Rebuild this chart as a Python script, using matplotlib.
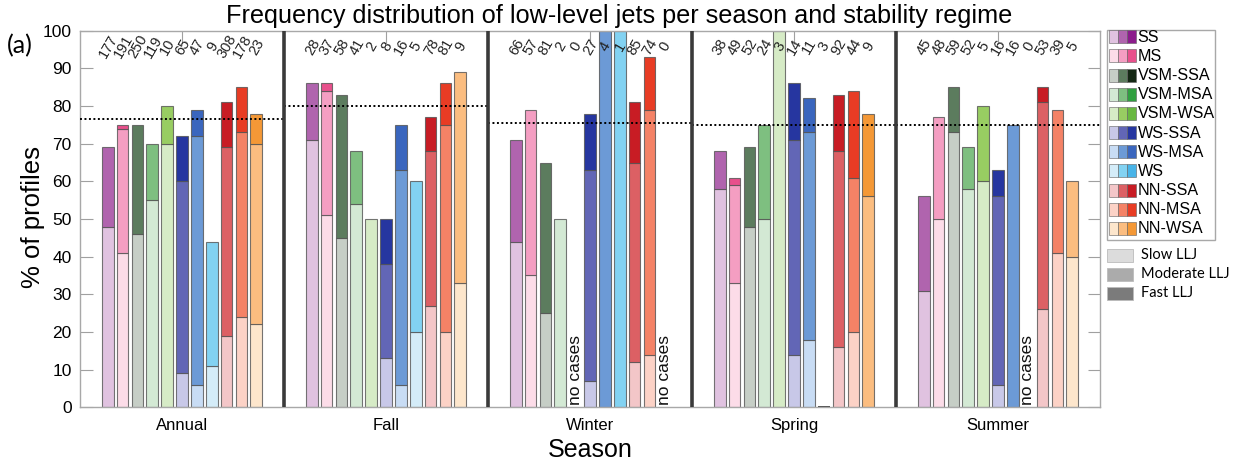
import matplotlib
matplotlib.use("Agg")
import matplotlib.pyplot as plt
from matplotlib.patches import Rectangle

plt.rcParams['font.family'] = ['Liberation Sans', 'DejaVu Sans']

seasons = ["Annual", "Fall", "Winter", "Spring", "Summer"]
regimes = ["SS", "MS", "VSM-SSA", "VSM-MSA", "VSM-WSA", "WS-SSA",
           "WS-MSA", "WS", "NN-SSA", "NN-MSA", "NN-WSA"]

# % of profiles with a slow / moderate / fast LLJ (rows: seasons, cols: regimes)
slow = [
    [48, 41, 46, 55, 70, 9, 6, 11, 19, 24, 22],
    [71, 51, 45, 54, 50, 13, 6, 20, 27, 20, 33],
    [44, 35, 25, 50, 0, 7, 0, 0, 12, 14, 0],
    [58, 33, 48, 50, 100, 14, 18, 0, 16, 20, 0],
    [31, 50, 73, 58, 60, 6, 0, 0, 26, 41, 40],
]
moderate = [
    [21, 33, 29, 15, 10, 51, 66, 33, 50, 49, 48],
    [15, 33, 38, 14, 0, 25, 57, 40, 41, 55, 56],
    [27, 44, 40, 0, 0, 56, 100, 100, 53, 65, 0],
    [10, 26, 21, 25, 0, 57, 55, 0, 52, 41, 56],
    [25, 27, 12, 11, 20, 50, 75, 0, 55, 38, 20],
]
fast = [
    [0, 1, 0, 0, 0, 12, 7, 0, 12, 12, 8],
    [0, 2, 0, 0, 0, 12, 12, 0, 9, 11, 0],
    [0, 0, 0, 0, 0, 15, 0, 0, 16, 14, 0],
    [0, 2, 0, 0, 0, 15, 9, 0, 15, 23, 22],
    [0, 0, 0, 0, 0, 7, 0, 0, 4, 0, 0],
]
# number of LLJ cases
counts = [
    [177, 191, 250, 119, 10, 65, 47, 9, 308, 178, 23],
    [28, 37, 58, 41, 2, 8, 16, 5, 78, 81, 9],
    [66, 57, 81, 2, 0, 27, 4, 1, 85, 74, 0],
    [38, 49, 52, 24, 3, 14, 11, 3, 92, 44, 9],
    [45, 48, 59, 52, 5, 16, 16, 0, 53, 39, 5],
]
# overall LLJ frequency of each season
season_mean = [76.5, 80.0, 75.5, 75.0, 75.0]

# light / medium / dark shade of each regime
palette = [
    ("#e0c2e0", "#b064ae", "#8c1c8c"),
    ("#fcdce8", "#f49ec2", "#e8508c"),
    ("#c6cec6", "#5c7c5e", "#142814"),
    ("#d3e9d4", "#7ebf80", "#30a040"),
    ("#d6ebc6", "#98cd62", "#68b840"),
    ("#c8c8e8", "#6266b6", "#2636a0"),
    ("#c8dcf4", "#6c9ad6", "#3a66be"),
    ("#d4ecf8", "#82d2f2", "#48b4e8"),
    ("#f3c6c8", "#dc6064", "#c81c24"),
    ("#fcd2c6", "#f48266", "#e83c24"),
    ("#fde6cc", "#fbbd80", "#f49836"),
]
speed_labels = ["Slow LLJ", "Moderate LLJ", "Fast LLJ"]
speed_greys = ["#dcdcdc", "#ababab", "#7b7b7b"]

W, H = 1239, 465
fig = plt.figure(figsize=(W / 100, H / 100), dpi=100)
ax = fig.add_axes([80 / W, 1 - 407.3 / H, 1020 / W, 376.6 / H])

pitch = 0.0728
width = 0.057
edge = (0.33, 0.33, 0.33, 0.8)

for s in range(len(seasons)):
    center = s + 1
    for r in range(len(regimes)):
        x = center + (r - 5) * pitch
        n = counts[s][r]
        parts = [slow[s][r], moderate[s][r], fast[s][r]]
        if n == 0:
            ax.text(x, 0.6, "no cases", rotation=90, ha='center', va='bottom',
                    fontsize=12.5, color='#111111', zorder=4)
        else:
            bottom = 0
            drawn = False
            for k, v in enumerate(parts):
                if v > 0:
                    ax.bar(x, v, width, bottom=bottom, color=palette[r][k],
                           edgecolor=edge, linewidth=0.8, zorder=2)
                    bottom += v
                    drawn = True
            if not drawn:
                ax.bar(x, 0, width, color=palette[r][0], edgecolor='#444444',
                       linewidth=1.4, zorder=2)
        ax.text(x + 0.004, 95.8, str(n), rotation=60, ha='center', va='center',
                fontsize=10.5, color='#222222', zorder=5)
    ax.plot([center - 0.5, center + 0.5], [season_mean[s]] * 2, ls=(0, (1, 1.3)),
            color='black', lw=1.4, zorder=3)

for b in [1.5, 2.5, 3.5, 4.5]:
    ax.axvline(b, color='#3a3a3a', lw=2.6, zorder=3)

ax.set_xlim(0.5, 5.5)
ax.set_ylim(0, 100)
ax.set_xticks(range(1, 6))
ax.set_xticklabels(seasons, fontsize=12)
ax.set_yticks(range(0, 101, 10))
ax.tick_params(axis='y', labelsize=12.5, pad=6)
ax.tick_params(direction='in', length=9, width=0.8, color='#a0a0a0',
               top=True, right=True)
ax.tick_params(axis='x', pad=8)
for sp in ax.spines.values():
    sp.set_color('#a8a8a8')
    sp.set_linewidth(1.0)
ax.set_xlabel("Season", fontsize=18, labelpad=3)

fig.text(33 / W, 1 - 217 / H, "% of profiles", rotation=90, ha='center', va='center',
         fontsize=18.5)
fig.text(0.5, 1 - 16 / H, "Frequency distribution of low-level jets per season and stability regime",
         ha='center', va='center', fontsize=18.2)
fig.text(7 / W, 1 - 46 / H, "(a)", ha='left', va='center', fontsize=18,
         family=['Lato', 'DejaVu Sans'])

# legend drawn in figure pixel coordinates
ov = fig.add_axes([0, 0, 1, 1])
ov.set_xlim(0, W)
ov.set_ylim(H, 0)
ov.axis('off')
ov.add_patch(Rectangle((1106.5, 30), 108.5, 210, fill=False, edgecolor='#a8a8a8', lw=1.0))
for r, name in enumerate(regimes):
    yc = 36.8 + r * 19.15
    for k in range(3):
        ov.add_patch(Rectangle((1108.5 + k * 9, yc - 6.5), 9, 13, facecolor=palette[r][k],
                               edgecolor=(0.4, 0.4, 0.4, 0.7), lw=0.6))
    ov.text(1137.5, yc + 0.5, name, ha='left', va='center', fontsize=11.6)
for k, lab in enumerate(speed_labels):
    yc = 255 + k * 19.2
    ov.add_patch(Rectangle((1107, yc - 6.5), 26, 13, facecolor=speed_greys[k],
                           edgecolor='#bbbbbb', lw=0.6))
    ov.text(1141, yc, lab, ha='left', va='center', fontsize=10.5,
            family=['Lato', 'DejaVu Sans'])

fig.savefig("out.png", dpi=100)
